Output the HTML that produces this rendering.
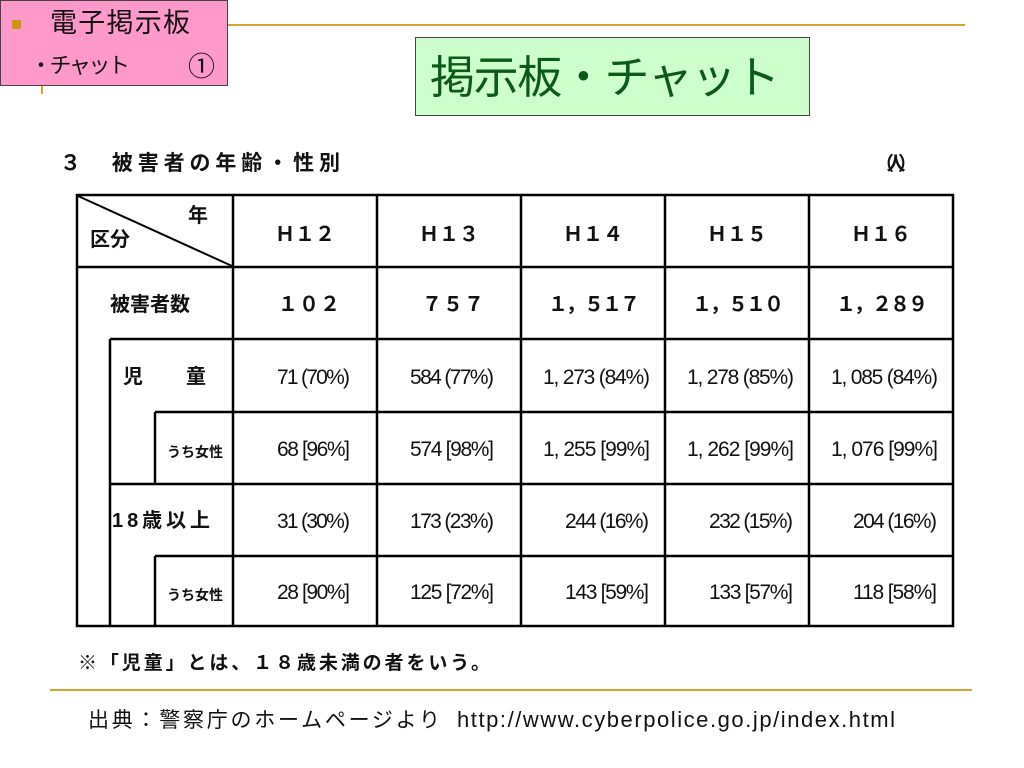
<!DOCTYPE html>
<html><head><meta charset="utf-8"><style>
html,body{margin:0;padding:0;background:#fff;width:1024px;height:768px;overflow:hidden}
svg{display:block}
text{font-family:"Liberation Sans","Noto Sans CJK JP",sans-serif;fill:#111}
</style></head><body>
<svg width="1024" height="768" viewBox="0 0 1024 768">
<line x1="228" y1="25" x2="965" y2="25" stroke="#d4a52a" stroke-width="2"/>
<line x1="50" y1="690" x2="972" y2="690" stroke="#d4a52a" stroke-width="2"/>
<line x1="42" y1="86" x2="42" y2="94" stroke="#d4a52a" stroke-width="2"/>
<g>
<rect x="0.5" y="0.5" width="227" height="85" fill="#ff99cc" stroke="#444" stroke-width="1"/>
<rect x="12" y="20" width="9" height="9" fill="#c9960c"/>
<text x="50" y="32" font-size="27" textLength="140">電子掲示板</text>
<text x="30" y="73" font-size="22" textLength="100">・チャット</text>
<text x="188" y="76" font-size="27">①</text>
</g>
<g>
<rect x="415.5" y="37.5" width="394" height="78" fill="#ccffcc" stroke="#444" stroke-width="1"/>
<text x="430" y="93" font-size="45" textLength="350" style="fill:#0b5a17">掲示板・チャット</text>
</g>
<text x="60" y="170" font-size="21" font-weight="bold" textLength="280">３　被害者の年齢・性別</text>
<text x="875" y="170" font-size="19" font-weight="bold" textLength="42">（人）</text>
<g stroke="#000" stroke-width="2.5" fill="none">
<rect x="77" y="195" width="876" height="431"/>
<line x1="77" y1="267" x2="953" y2="267"/>
<line x1="110" y1="339" x2="953" y2="339"/>
<line x1="155" y1="412" x2="953" y2="412"/>
<line x1="110" y1="484" x2="953" y2="484"/>
<line x1="155" y1="556" x2="953" y2="556"/>
<line x1="110" y1="339" x2="110" y2="626"/>
<line x1="155" y1="412" x2="155" y2="484"/>
<line x1="155" y1="556" x2="155" y2="626"/>
<line x1="233" y1="195" x2="233" y2="626"/>
<line x1="377" y1="195" x2="377" y2="626"/>
<line x1="521" y1="195" x2="521" y2="626"/>
<line x1="665" y1="195" x2="665" y2="626"/>
<line x1="809" y1="195" x2="809" y2="626"/>
<line x1="78" y1="196" x2="232" y2="266" stroke-width="2"/>
</g>
<g font-size="20" font-weight="bold">
<text x="188" y="222">年</text>
<text x="90" y="246">区分</text>
<text x="275" y="241" textLength="60">Ｈ１２</text>
<text x="419" y="241" textLength="60">Ｈ１３</text>
<text x="563" y="241" textLength="60">Ｈ１４</text>
<text x="707" y="241" textLength="60">Ｈ１５</text>
<text x="851" y="241" textLength="60">Ｈ１６</text>
<text x="110" y="311">被害者数</text>
<text x="278" y="311" textLength="62">１０２</text>
<text x="422" y="311" textLength="62">７５７</text>
<text x="548" y="311" textLength="92">１，５１７</text>
<text x="692" y="311" textLength="92">１，５１０</text>
<text x="836" y="311" textLength="92">１，２８９</text>
<text x="123" y="383">児</text>
<text x="186" y="383">童</text>
<text x="112" y="527" textLength="98">18歳以上</text>
<text x="167" y="457" font-size="14">うち女性</text>
<text x="167" y="600" font-size="14">うち女性</text>
</g>
<g font-size="21">
<text x="277" y="384" textLength="73">71 (70%)</text>
<text x="410" y="384" textLength="84">584 (77%)</text>
<text x="543" y="384" textLength="107">1, 273 (84%)</text>
<text x="687" y="384" textLength="107">1, 278 (85%)</text>
<text x="831" y="384" textLength="107">1, 085 (84%)</text>
<text x="277" y="456" textLength="73">68 [96%]</text>
<text x="410" y="456" textLength="84">574 [98%]</text>
<text x="543" y="456" textLength="107">1, 255 [99%]</text>
<text x="687" y="456" textLength="107">1, 262 [99%]</text>
<text x="831" y="456" textLength="107">1, 076 [99%]</text>
<text x="277" y="528" textLength="73">31 (30%)</text>
<text x="410" y="528" textLength="84">173 (23%)</text>
<text x="565" y="528" textLength="84">244 (16%)</text>
<text x="709" y="528" textLength="84">232 (15%)</text>
<text x="853" y="528" textLength="84">204 (16%)</text>
<text x="277" y="599" textLength="73">28 [90%]</text>
<text x="410" y="599" textLength="84">125 [72%]</text>
<text x="565" y="599" textLength="84">143 [59%]</text>
<text x="709" y="599" textLength="84">133 [57%]</text>
<text x="853" y="599" textLength="84">118 [58%]</text>
</g>
<text x="78" y="669" font-size="19" font-weight="bold" textLength="412">※「児童」とは、１８歳未満の者をいう。</text>
<g>
<text x="88" y="727" font-size="21" textLength="352">出典：警察庁のホームページより</text>
<text x="457" y="727" font-size="22" textLength="438">http://www.cyberpolice.go.jp/index.html</text>
</g>
</svg>
</body></html>
